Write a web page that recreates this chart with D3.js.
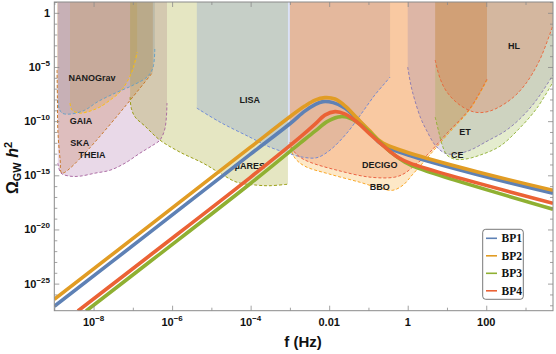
<!DOCTYPE html>
<html><head><meta charset="utf-8">
<script src="https://cdn.jsdelivr.net/npm/d3@7"></script>
<style>body{margin:0;background:#fff}svg{display:block}</style>
</head><body>
<svg id="c" width="556" height="354"></svg>
<script>
// ---------- data ----------
const xTickValues = [1e-8, 1e-6, 1e-4, 1e-2, 1, 100];
const xTickBase = ["10", "10", "10", "0.01", "1", "100"];
const xTickExp = ["−8", "−6", "−4", "", "", ""];
const yTickValues = [1, 1e-5, 1e-10, 1e-15, 1e-20, 1e-25];
const yTickBase = ["1", "10", "10", "10", "10", "10"];
const yTickExp = ["", "−5", "−10", "−15", "−20", "−25"];

const seriesNames = ["BP1", "BP2", "BP3", "BP4"];
const seriesColors = ["#5E81B5", "#E19C24", "#8FB032", "#EB6235"];
// log10 f (Hz), log10 Omega h^2
const bp1LogF = [-9.00, -6.56, -4.02, -3.00, -2.62, -2.36, -2.16, -1.90, -1.59, -1.29, -0.96, -0.63, 3.70];
const bp1LogOmega = [-27.10, -20.25, -13.09, -10.24, -9.07, -8.47, -8.20, -8.29, -8.80, -9.81, -11.01, -12.22, -16.65];
const bp2LogF = [-9.00, -6.56, -4.02, -3.00, -2.62, -2.36, -2.11, -1.85, -1.59, -1.29, -0.96, -0.63, 3.70];
const bp2LogOmega = [-26.45, -19.60, -12.45, -9.59, -8.61, -8.06, -7.83, -7.96, -8.61, -9.72, -10.92, -12.03, -16.38];
const bp3LogF = [-8.19, -6.56, -4.02, -2.74, -2.36, -2.03, -1.70, -1.42, -1.09, -0.76, -0.40, -0.07, 0.26, 3.70];
const bp3LogOmega = [-27.53, -22.96, -15.80, -12.03, -10.92, -10.00, -9.58, -9.81, -10.65, -11.75, -12.96, -13.79, -14.34, -18.13];
const bp4LogF = [-8.40, -6.56, -4.02, -2.74, -2.36, -2.11, -1.85, -1.59, -1.29, -0.96, -0.58, -0.25, 0.06, 3.70];
const bp4LogOmega = [-27.53, -22.38, -15.23, -11.48, -10.28, -9.44, -9.12, -9.35, -10.09, -11.20, -12.40, -13.33, -13.88, -17.58];

const detectorNames = ["NANOGrav", "GAIA", "SKA", "THEIA", "μARES", "LISA", "DECIGO", "BBO", "ET", "CE", "HL"];
const detectorColors = ["#FFBF00", "#5D9EC7", "#C56E1A", "#A5609D", "#929600", "#6685D9", "#E95536", "#F89F13", "#8778B3", "#8FB032", "#EB6235"];
const nanogravLogF = [-8.60, -8.55, -8.35, -8.09, -7.84, -7.58, -7.33, -7.15, -6.99, -6.89];
const nanogravLogOmega = [-8.33, -8.98, -9.26, -9.07, -8.70, -8.06, -7.32, -6.39, -5.10, -3.62];
const gaiaLogF = [-8.91, -8.88, -8.80, -8.60, -8.22, -7.91, -7.45, -6.99, -6.64, -6.49, -6.44];
const gaiaLogOmega = [-8.06, -8.80, -9.26, -9.35, -8.98, -8.24, -7.41, -6.67, -5.93, -5.10, -3.25];
const skaLogF = [-8.93, -8.92, -8.91, -8.85, -8.80, -6.49];
const skaLogOmega = [-5.28, -8.06, -10.83, -13.60, -14.80, -5.47];
const theiaLogF = [-8.91, -8.83, -8.60, -8.35, -7.96, -7.58, -7.20, -6.82, -6.49, -6.31, -6.18, -6.13];
const theiaLogOmega = [-13.88, -14.80, -15.08, -15.08, -14.80, -14.53, -13.88, -12.96, -12.22, -11.75, -10.64, -8.33];
const maresLogF = [-7.07, -7.04, -6.94, -6.69, -6.31, -5.80, -5.21, -4.78, -4.35, -3.84, -3.51, -3.05];
const maresLogOmega = [-7.78, -8.80, -9.63, -10.46, -11.75, -12.86, -13.88, -14.80, -15.64, -15.91, -15.96, -15.82];
const lisaLogF = [-5.37, -4.78, -4.02, -3.51, -3.05, -2.67, -2.31, -1.98, -1.55, -1.17, -0.84, -0.58, -0.45];
const lisaLogOmega = [-8.80, -10.09, -11.48, -12.40, -12.96, -13.33, -13.37, -12.68, -11.11, -9.26, -7.60, -6.49, -5.93];
const decigoLogF = [-3.00, -2.92, -2.74, -2.49, -1.80, -0.96, -0.33, -0.07, 0.18, 0.49, 1.00, 1.59, 2.02];
const decigoLogOmega = [-11.94, -12.68, -13.33, -13.79, -14.53, -15.17, -15.17, -14.80, -14.06, -13.14, -11.11, -8.80, -6.12];
const bboLogF = [-3.00, -2.87, -2.62, -1.98, -1.22, -0.71, -0.38, -0.12, 0.13, 0.49, 1.00, 1.59, 2.02];
const bboLogOmega = [-12.40, -13.42, -14.16, -14.90, -15.64, -16.19, -16.38, -15.91, -14.90, -13.42, -11.29, -8.89, -6.21];
const etLogF = [0.00, 0.08, 0.18, 0.33, 0.49, 0.70, 0.95, 1.20, 1.59, 2.02, 2.48, 2.85, 3.24, 3.70];
const etLogOmega = [-5.01, -6.67, -8.06, -9.72, -10.92, -12.22, -12.96, -13.05, -12.68, -11.85, -10.92, -9.81, -8.24, -5.75];
const ceLogF = [0.70, 0.78, 0.88, 1.00, 1.20, 1.46, 1.84, 2.35, 2.85, 3.29, 3.70];
const ceLogOmega = [-9.63, -10.83, -12.22, -13.14, -13.51, -13.51, -13.14, -12.31, -10.65, -8.80, -6.39];
const hlLogF = [0.70, 0.82, 1.00, 1.33, 1.71, 2.09, 2.60, 2.98, 3.36, 3.70];
const hlLogOmega = [-4.36, -6.02, -7.32, -8.52, -9.17, -9.07, -8.06, -6.67, -4.36, -1.13];
const detectorLabelLogF = [-8.04, -8.32, -8.35, -8.04, -4.02, -4.02, -0.71, -0.71, 1.46, 1.26, 2.71];
const detectorLabelLogOmega = [-6.02, -10.00, -12.03, -13.14, -14.16, -8.06, -14.06, -16.10, -11.01, -13.14, -3.07];

// ---------- chart ----------
const svg = d3.select("#c");
const L = 54.3, R = 553, T = 2, B = 310.7;
const x = d3.scaleLog().domain([1e-9, Math.pow(10, 3.7)]).range([L, R]);
const y = d3.scaleLog().domain([Math.pow(10, -27.5), 10]).range([B, T]);

svg.append("defs").append("clipPath").attr("id", "clip")
  .append("rect").attr("x", L).attr("y", T).attr("width", R - L).attr("height", B - T);
const plot = svg.append("g").attr("clip-path", "url(#clip)");

const toPts = (lf, lo) => lf.map((v, i) => [x(Math.pow(10, v)), y(Math.pow(10, lo[i]))]);
const lineGen = d3.line().curve(d3.curveCatmullRom.alpha(0.5));

const detLF = [nanogravLogF, gaiaLogF, skaLogF, theiaLogF, maresLogF, lisaLogF, decigoLogF, bboLogF, etLogF, ceLogF, hlLogF];
const detLO = [nanogravLogOmega, gaiaLogOmega, skaLogOmega, theiaLogOmega, maresLogOmega, lisaLogOmega, decigoLogOmega, bboLogOmega, etLogOmega, ceLogOmega, hlLogOmega];

const topY = y(10);
detectorNames.forEach((n, i) => {
  const pts = toPts(detLF[i], detLO[i]);
  const curve = lineGen(pts);
  const last = pts[pts.length - 1], first = pts[0];
  plot.append("path")
    .attr("d", curve + `L${last[0]},${topY}L${first[0]},${topY}Z`)
    .attr("fill", detectorColors[i]).attr("fill-opacity", 0.24).attr("stroke", "none");
});
detectorNames.forEach((n, i) => {
  plot.append("path").attr("d", lineGen(toPts(detLF[i], detLO[i])))
    .attr("fill", "none").attr("stroke", detectorColors[i]).attr("stroke-width", 0.9)
    .attr("stroke-dasharray", "3,2");
});
detectorNames.forEach((n, i) => {
  plot.append("text").attr("x", x(Math.pow(10, detectorLabelLogF[i])))
    .attr("y", y(Math.pow(10, detectorLabelLogOmega[i])))
    .attr("dy", "0.35em").attr("text-anchor", "middle")
    .attr("font-family", "Liberation Sans, Arial, sans-serif").attr("font-weight", "bold")
    .attr("font-size", 9).attr("fill", "#1a1a1a").text(n);
});

const bpLF = [bp1LogF, bp2LogF, bp3LogF, bp4LogF];
const bpLO = [bp1LogOmega, bp2LogOmega, bp3LogOmega, bp4LogOmega];
seriesNames.forEach((n, i) => {
  plot.append("path").attr("d", lineGen(toPts(bpLF[i], bpLO[i])))
    .attr("fill", "none").attr("stroke", seriesColors[i]).attr("stroke-width", 3.6)
    .attr("stroke-linejoin", "round");
});

// ---------- frame & ticks ----------
const frameColor = "#8a8a8a";
const minorX = d3.range(-9, 4).map(e => Math.pow(10, e)).filter(v => !xTickValues.includes(v));
const minorY = d3.range(-27, 2).map(e => Math.pow(10, e)).filter(v => !yTickValues.some(t => Math.abs(Math.log10(t) - Math.log10(v)) < 1e-6));

function styleAxis(g) {
  g.selectAll("path.domain").remove();
  g.selectAll("line").attr("stroke", frameColor).attr("stroke-width", 0.8);
  g.selectAll("text").remove();
}
svg.append("g").attr("transform", `translate(0,${B})`).call(d3.axisBottom(x).tickValues(xTickValues).tickSize(-5).tickFormat("")).call(styleAxis);
svg.append("g").attr("transform", `translate(0,${B})`).call(d3.axisBottom(x).tickValues(minorX).tickSize(-3).tickFormat("")).call(styleAxis);
svg.append("g").attr("transform", `translate(0,${T})`).call(d3.axisTop(x).tickValues(xTickValues).tickSize(-5).tickFormat("")).call(styleAxis);
svg.append("g").attr("transform", `translate(0,${T})`).call(d3.axisTop(x).tickValues(minorX).tickSize(-3).tickFormat("")).call(styleAxis);
svg.append("g").attr("transform", `translate(${L},0)`).call(d3.axisLeft(y).tickValues(yTickValues).tickSize(-5).tickFormat("")).call(styleAxis);
svg.append("g").attr("transform", `translate(${L},0)`).call(d3.axisLeft(y).tickValues(minorY).tickSize(-3).tickFormat("")).call(styleAxis);
svg.append("g").attr("transform", `translate(${R},0)`).call(d3.axisRight(y).tickValues(yTickValues).tickSize(-5).tickFormat("")).call(styleAxis);
svg.append("g").attr("transform", `translate(${R},0)`).call(d3.axisRight(y).tickValues(minorY).tickSize(-3).tickFormat("")).call(styleAxis);
svg.append("rect").attr("x", L).attr("y", T).attr("width", R - L).attr("height", B - T)
  .attr("fill", "none").attr("stroke", frameColor).attr("stroke-width", 1);

const font = "Liberation Sans, Arial, sans-serif";
xTickValues.forEach((v, i) => {
  const t = svg.append("text").attr("x", x(v)).attr("y", 326).attr("text-anchor", "middle")
    .attr("font-family", font).attr("font-weight", "bold").attr("font-size", 11).attr("fill", "#111");
  t.append("tspan").text(xTickBase[i]);
  if (xTickExp[i]) t.append("tspan").attr("dy", -5).attr("font-size", 8).text(xTickExp[i]);
});
yTickValues.forEach((v, i) => {
  const t = svg.append("text").attr("x", 50).attr("y", y(v) + 4).attr("text-anchor", "end")
    .attr("font-family", font).attr("font-weight", "bold").attr("font-size", 11).attr("fill", "#111");
  t.append("tspan").text(yTickBase[i]);
  if (yTickExp[i]) t.append("tspan").attr("dy", -5).attr("font-size", 8).text(yTickExp[i]);
});

svg.append("text").attr("x", 303).attr("y", 347).attr("text-anchor", "middle")
  .attr("font-family", font).attr("font-weight", "bold").attr("font-size", 15).attr("fill", "#111")
  .text("f (Hz)");
const yt = svg.append("text").attr("transform", "translate(18,168) rotate(-90)").attr("text-anchor", "middle")
  .attr("font-family", font).attr("font-weight", "bold").attr("font-size", 16).attr("fill", "#111");
yt.append("tspan").text("Ω");
yt.append("tspan").attr("font-size", 11).attr("dy", 3).text("GW");
yt.append("tspan").attr("font-style", "italic").attr("dy", -3).text(" h");
yt.append("tspan").attr("font-size", 11).attr("dy", -6).text("2");

// ---------- legend ----------
const lg = svg.append("g");
lg.append("rect").attr("x", 482.7).attr("y", 229.3).attr("width", 40.6).attr("height", 70)
  .attr("rx", 3).attr("fill", "#fff").attr("stroke", "#555").attr("stroke-width", 0.8);
seriesNames.forEach((n, i) => {
  const yy = 238.3 + i * 17.5;
  lg.append("line").attr("x1", 486).attr("x2", 497).attr("y1", yy).attr("y2", yy)
    .attr("stroke", seriesColors[i]).attr("stroke-width", 1.6);
  lg.append("text").attr("x", 501.5).attr("y", yy + 4).attr("font-family", "Liberation Serif, Times New Roman, serif")
    .attr("font-weight", "bold").attr("font-size", 11.5).attr("fill", "#111").text(n);
});
</script>
</body></html>
